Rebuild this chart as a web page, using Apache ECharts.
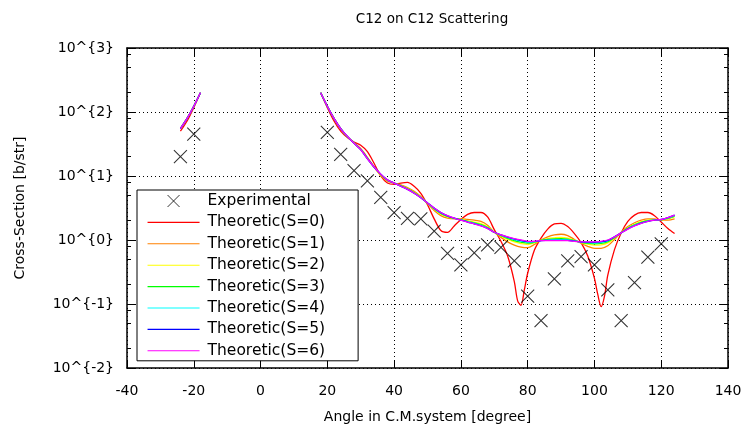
<!DOCTYPE html>
<html>
<head>
<meta charset="utf-8">
<script src="https://cdn.jsdelivr.net/npm/echarts@6/dist/echarts.min.js"></script>
<style>html,body{margin:0;padding:0;background:#fff}#c{width:748px;height:438px}</style>
</head>
<body>
<div id="c"></div>
<script>
const titleText = 'C12 on C12 Scattering';
const xName = 'Angle in C.M.system [degree]';
const yName = 'Cross-Section [b/str]';
const seriesNames = ['Theoretic(S=0)','Theoretic(S=1)','Theoretic(S=2)','Theoretic(S=3)','Theoretic(S=4)','Theoretic(S=5)','Theoretic(S=6)'];

const expAngles = [-24,-20,20,24,28,32,36,40,44,48,52,56,60,64,68,72,76,80,84,88,92,96,100,104,108,112,116,120];
const expValues = [20,45,48,21.8,12.1,8.4,4.65,2.67,2.18,2.13,1.38,0.62,0.41,0.63,0.84,0.77,0.47,0.133,0.055,0.246,0.47,0.55,0.41,0.166,0.055,0.215,0.54,0.87];

const leftAngles = [-24,-22,-20,-18];
const leftS0 = [50.1,72.4,117,200];
const leftS1to6 = [55.0,79.4,123,200];

const angles = [18,20,22,24,26,28,30,32,34,36,38,40,42,44,46,48,50,52,54,56,58,60,62,64,66,68,70,72,74,76,78,80,82,84,86,88,90,92,94,96,98,100,102,104,106,108,110,112,114,116,118,120,122,124];
const anglesS0 = [18,20,22,24,26,28,30,32,34,36,38,40,42,44,46,48,50,52,54,56,58,60,62,64,66,68,70,72,74,76,77,78,79,80,82,84,86,88,90,92,94,96,98,100,101,102,103,104,106,108,110,112,114,116,118,120,122,124];

const thS0 = [200,117,72.4,50.1,39.8,33.9,30.2,24.0,15.8,10.0,7.76,7.41,7.76,7.94,6.92,5.37,3.55,2.14,1.41,1.32,1.66,2.09,2.51,2.69,2.69,2.29,1.45,0.955,0.562,0.224,0.112,0.0955,0.166,0.302,0.692,1.07,1.48,1.78,1.82,1.62,1.26,0.912,0.562,0.251,0.141,0.0912,0.132,0.282,0.708,1.29,1.95,2.45,2.69,2.69,2.40,1.91,1.51,1.26];
const thS1 = [200,123,79.4,55.0,40.7,33.1,26.9,19.5,13.8,10.2,8.32,7.76,7.24,6.61,5.75,4.79,3.72,2.88,2.40,2.19,2.14,2.14,2.09,2.04,1.95,1.70,1.32,1.10,0.933,0.832,0.776,0.759,0.851,1.00,1.12,1.20,1.23,1.17,1.02,0.891,0.794,0.741,0.741,0.813,1.02,1.32,1.62,1.86,2.04,2.14,2.14,2.04,2.04,2.14];
const thS2 = [200,123,79.4,55.0,41.2,32.7,26.3,19.1,13.8,10.5,8.51,7.76,7.08,6.38,5.56,4.68,3.76,3.02,2.54,2.29,2.16,2.09,2.00,1.91,1.80,1.60,1.32,1.15,1.02,0.933,0.881,0.851,0.902,0.989,1.05,1.08,1.10,1.07,0.989,0.912,0.861,0.832,0.841,0.902,1.07,1.30,1.55,1.76,1.93,2.04,2.09,2.07,2.14,2.29];
const thS3 = [200,123,79.4,55.0,41.4,32.6,26.1,18.9,13.8,10.6,8.59,7.76,7.01,6.30,5.48,4.63,3.78,3.08,2.60,2.33,2.17,2.07,1.96,1.85,1.74,1.57,1.32,1.17,1.06,0.977,0.927,0.891,0.923,0.984,1.02,1.04,1.05,1.03,0.975,0.920,0.889,0.871,0.885,0.940,1.09,1.30,1.52,1.72,1.88,2.00,2.07,2.07,2.18,2.36];
const thS4 = [200,123,79.4,55.0,41.6,32.5,25.9,18.7,13.8,10.6,8.65,7.76,6.97,6.23,5.43,4.60,3.79,3.12,2.65,2.37,2.18,2.06,1.93,1.82,1.70,1.54,1.32,1.19,1.09,1.01,0.963,0.923,0.939,0.981,0.998,1.01,1.01,1.00,0.965,0.927,0.911,0.902,0.920,0.969,1.11,1.29,1.50,1.69,1.85,1.98,2.06,2.08,2.21,2.40];
const thS5 = [200,123,79.4,55.0,41.6,32.4,25.8,18.7,13.8,10.7,8.69,7.76,6.93,6.19,5.39,4.58,3.80,3.15,2.68,2.39,2.19,2.05,1.91,1.79,1.67,1.52,1.32,1.20,1.11,1.04,0.987,0.944,0.950,0.978,0.984,0.987,0.989,0.986,0.958,0.931,0.926,0.923,0.943,0.990,1.12,1.29,1.49,1.67,1.83,1.96,2.05,2.09,2.23,2.44];
const thS6 = [200,123,79.4,55.0,41.7,32.4,25.7,18.6,13.8,10.7,8.71,7.76,6.92,6.17,5.37,4.57,3.80,3.16,2.69,2.40,2.19,2.04,1.91,1.78,1.66,1.51,1.32,1.20,1.12,1.05,1.00,0.955,0.955,0.977,0.977,0.977,0.977,0.977,0.955,0.933,0.933,0.933,0.955,1.00,1.12,1.29,1.48,1.66,1.82,1.95,2.04,2.09,2.24,2.45];

const yMinorTicks = [0.02,0.05,0.08,0.2,0.5,0.8,2,5,8,20,50,80,200,500,800];

const colors = ['#ff0000','#ff8000','#ffff00','#00ff00','#00ffff','#0000ff','#ff00ff'];
const rightSets = [thS0,thS1,thS2,thS3,thS4,thS5,thS6];
const leftSets = [leftS0,leftS1to6,leftS1to6,leftS1to6,leftS1to6,leftS1to6,leftS1to6];

const FONT = 'DejaVu Sans';
const pairs = (xs, ys) => xs.map((x, i) => [x, ys[i]]);

const series = [];
series.push({
  name: 'Experimental', type: 'scatter', xAxisIndex: 0, yAxisIndex: 0,
  symbol: 'path://M0,0L10,10M10,0L0,10', symbolSize: 13,
  itemStyle: { color: 'rgba(0,0,0,0)', borderColor: '#000', borderWidth: 1.1 },
  data: pairs(expAngles, expValues), z: 10
});
seriesNames.forEach((nm, i) => {
  const base = {
    name: nm, type: 'line', xAxisIndex: 0, yAxisIndex: 0, symbol: 'none', smooth: 0.3,
    lineStyle: { color: colors[i], width: 1.3 }, itemStyle: { color: colors[i] }, z: 3 + i
  };
  series.push(Object.assign({}, base, { data: pairs(i === 0 ? anglesS0 : angles, rightSets[i]) }));
  series.push(Object.assign({}, base, { data: pairs(leftAngles, leftSets[i]) }));
});

const hiddenAxisLine = { show: false, onZero: false };

const chart = echarts.init(document.getElementById('c'), null, { renderer: 'canvas' });
chart.setOption({
  animation: false,
  backgroundColor: '#fff',
  title: { text: titleText, left: 427, top: 7, textAlign: 'center',
    textStyle: { fontFamily: FONT, fontSize: 13.5, fontWeight: 'normal', color: '#000' } },
  grid: { left: 127, right: 20, top: 48, bottom: 70, show: false },
  legend: {
    orient: 'vertical', left: 137, top: 190, itemGap: 5.4, itemWidth: 52, itemHeight: 12,
    padding: [3, 33, 2, 10], borderColor: '#000', borderWidth: 1, backgroundColor: '#fff',
    textStyle: { fontFamily: FONT, fontSize: 15.5, color: '#000', padding: [0, 0, 0, 3] },
    data: [{ name: 'Experimental', icon: 'path://M0,0L10,10M10,0L0,10',
             itemStyle: { color: 'rgba(0,0,0,0)', borderColor: '#000', borderWidth: 1 } }]
      .concat(seriesNames.map((n, i) => ({ name: n, itemStyle: { opacity: 0 },
             lineStyle: { color: colors[i], width: 1.1 } }))),
    selectedMode: false, z: 20
  },
  xAxis: [
    { type: 'value', min: -40, max: 140, interval: 20, position: 'bottom',
      name: xName, nameLocation: 'middle', nameGap: 42,
      nameTextStyle: { fontFamily: FONT, fontSize: 14, color: '#000' },
      axisLine: { show: true, onZero: false, lineStyle: { color: '#000', width: 1.5 } },
      axisTick: { show: true, inside: true, length: 8, lineStyle: { color: '#000' } },
      axisLabel: { fontFamily: FONT, fontSize: 14, color: '#000', margin: 16 },
      splitLine: { show: true, lineStyle: { color: '#000', type: [1, 3], width: 1 } } },
    { type: 'value', min: -40, max: 140, interval: 20, position: 'top',
      axisLine: { show: true, onZero: false, lineStyle: { color: '#000', width: 1.5 } },
      axisTick: { show: true, inside: true, length: 8, lineStyle: { color: '#000' } },
      axisLabel: { show: false }, splitLine: { show: false } }
  ],
  yAxis: [
    { type: 'log', logBase: 10, min: 0.01, max: 1000, position: 'left',
      name: yName, nameLocation: 'middle', nameGap: 100,
      nameTextStyle: { fontFamily: FONT, fontSize: 14, color: '#000' },
      axisLine: { show: true, onZero: false, lineStyle: { color: '#000', width: 1.5 } },
      axisTick: { show: true, inside: true, length: 8, lineStyle: { color: '#000' } },
      axisLabel: { fontFamily: FONT, fontSize: 14, color: '#000', margin: 13,
        formatter: v => '10^{' + Math.round(Math.log10(v)) + '}' },
      splitLine: { show: true, lineStyle: { color: '#000', type: [1, 3], width: 1 } } },
    { type: 'log', logBase: 10, min: 0.01, max: 1000, position: 'right',
      axisLine: { show: true, onZero: false, lineStyle: { color: '#000', width: 1.5 } },
      axisTick: { show: true, inside: true, length: 8, lineStyle: { color: '#000' } },
      axisLabel: { show: false }, splitLine: { show: false } },
    { type: 'log', logBase: 10, min: 0.01, max: 1000, position: 'left',
      axisLine: hiddenAxisLine,
      axisTick: { show: true, inside: true, length: 4, customValues: yMinorTicks, lineStyle: { color: '#000' } },
      axisLabel: { show: false }, splitLine: { show: false } },
    { type: 'log', logBase: 10, min: 0.01, max: 1000, position: 'right',
      axisLine: hiddenAxisLine,
      axisTick: { show: true, inside: true, length: 4, customValues: yMinorTicks, lineStyle: { color: '#000' } },
      axisLabel: { show: false }, splitLine: { show: false } }
  ],
  series: series
});
</script>
</body>
</html>
